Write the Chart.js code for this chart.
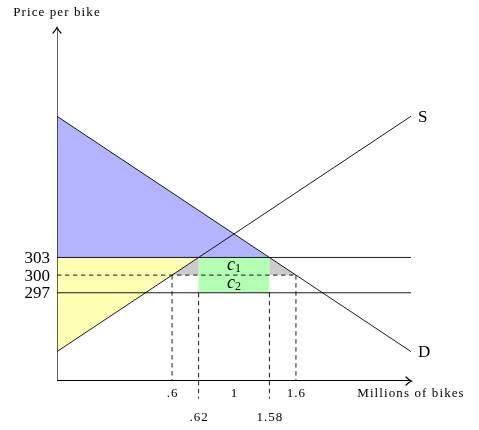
<!DOCTYPE html>
<html>
<head>
<meta charset="utf-8">
<script src="https://cdn.jsdelivr.net/npm/chart.js@4.4.1/dist/chart.umd.min.js"></script>
<style>
  html, body { margin: 0; padding: 0; background: #fff; }
  #wrap { width: 479px; height: 430px; }
</style>
</head>
<body>
<div id="wrap"><canvas id="grafico" width="479" height="430"></canvas></div>
<script>
// schematic units: both axes run 0..10
const supplyLine = [{x: 0, y: 0.833}, {x: 10, y: 7.5}];
const demandLine = [{x: 0, y: 7.5}, {x: 10, y: 0.833}];

const priceLevels = [3.5, 3, 2.5];
const priceLabels = ['303', '300', '297'];

// where the price lines cut supply and demand
const qSupplyAt300 = 3.25;
const qSupplyAt303 = 4;
const qDemandAt303 = 6;
const qDemandAt300 = 6.75;

const qTicks = [3.25, 5, 6.75];
const qTickLabels = ['.6', '1', '1.6'];
const qTicks2 = [4, 6];
const qTickLabels2 = ['.62', '1.58'];

const p303 = priceLevels[0], p300 = priceLevels[1], p297 = priceLevels[2];

function seg(a, b) { return [{x: a[0], y: a[1]}, {x: b[0], y: b[1]}]; }
function poly(pts) { return pts.map(p => ({x: p[0], y: p[1]})); }

function area(pts, color) {
  return {data: poly(pts), showLine: true, fill: 'shape', backgroundColor: color,
          borderWidth: 0, pointRadius: 0, order: 10};
}
function line(pts, width, dash, clip) {
  return {data: pts, showLine: true, fill: false, borderColor: '#000', borderWidth: width,
          borderDash: dash || [], pointRadius: 0, order: 1, clip: clip === false ? false : undefined};
}

const datasets = [
  area([[0, demandLine[0].y], [qDemandAt303, p303], [0, p303]], '#b3b3ff'),
  area([[0, p303], [qSupplyAt303, p303], [0, supplyLine[0].y]], '#ffffb3'),
  area([[qSupplyAt300, p300], [qSupplyAt303, p303], [qSupplyAt303, p300]], '#cccccc'),
  area([[qDemandAt303, p303], [qDemandAt300, p300], [qDemandAt303, p300]], '#cccccc'),
  area([[qSupplyAt303, p303], [qDemandAt303, p303], [qDemandAt303, p297], [qSupplyAt303, p297]], '#b3ffb3'),

  line(seg([0, p303], [10, p303]), 0.9),
  line(seg([0, p297], [10, p297]), 0.9),
  line(seg([0, p300], [qDemandAt300, p300]), 0.9, [4.5, 3.5]),
  line(seg([qSupplyAt300, p300], [qSupplyAt300, 0]), 0.9, [4.5, 3.5]),
  line(seg([qDemandAt300, p300], [qDemandAt300, 0]), 0.9, [4.5, 3.5]),
  line(seg([qSupplyAt303, p297], [qSupplyAt303, -0.5]), 0.9, [4.5, 3.5], false),
  line(seg([qDemandAt303, p297], [qDemandAt303, -0.5]), 0.9, [4.5, 3.5], false),
  line(supplyLine, 0.9),
  line(demandLine, 0.9),
  // axes
  line(seg([0, 0], [10, 0]), 1.8),
  line(seg([0, 0], [0, 10]), 1.2)
];

const serif = '"Liberation Serif", "DejaVu Serif", serif';

const labelsPlugin = {
  id: 'labels',
  afterDraw(chart) {
    const ctx = chart.ctx;
    const xs = chart.scales.x, ys = chart.scales.y;
    const X = v => xs.getPixelForValue(v), Y = v => ys.getPixelForValue(v);
    ctx.save();
    ctx.strokeStyle = '#000';
    ctx.lineWidth = 1.2;
    ctx.lineCap = 'round';
    // arrowheads
    const ax = X(10), ay = Y(0);
    ctx.beginPath();
    ctx.moveTo(ax - 5, ay - 4); ctx.quadraticCurveTo(ax - 2, ay - 1, ax + 0.5, ay);
    ctx.quadraticCurveTo(ax - 2, ay + 1, ax - 5, ay + 4);
    ctx.stroke();
    const bx = X(0), by = Y(10);
    ctx.beginPath();
    ctx.moveTo(bx - 4, by + 5); ctx.quadraticCurveTo(bx - 1, by + 2, bx, by - 0.5);
    ctx.quadraticCurveTo(bx + 1, by + 2, bx + 4, by + 5);
    ctx.stroke();

    ctx.fillStyle = '#000';
    ctx.textBaseline = 'middle';
    // price ticks
    ctx.font = '17px ' + serif;
    ctx.textAlign = 'right';
    priceLevels.forEach((p, i) => ctx.fillText(priceLabels[i], X(0) - 7, Y(p) + 1));
    // S and D
    ctx.textAlign = 'left';
    ctx.fillText('S', X(10) + 7, Y(supplyLine[1].y) + 1);
    ctx.fillText('D', X(10) + 7, Y(demandLine[1].y) + 1);
    // quantity ticks
    ctx.font = '13px ' + serif;
    ctx.textAlign = 'center';
    ctx.letterSpacing = '1px';
    qTicks.forEach((q, i) => ctx.fillText(qTickLabels[i], X(q) + 0.5, Y(0) + 13));
    qTicks2.forEach((q, i) => ctx.fillText(qTickLabels2[i], X(q) + 0.5, Y(0) + 37));
    ctx.letterSpacing = '1.1px';
    ctx.fillText('Millions of bikes', X(10), Y(0) + 13);
    ctx.fillText('Price per bike', X(0), Y(10) - 15);
    ctx.letterSpacing = '0px';
    // c1, c2
    const cx = X(5);
    [['1', (p303 + p300) / 2], ['2', (p300 + p297) / 2]].forEach(([sub, p]) => {
      ctx.font = 'italic 18px ' + serif;
      ctx.textAlign = 'right';
      ctx.fillText('c', cx + 1, Y(p) - 1);
      ctx.font = '12px ' + serif;
      ctx.textAlign = 'left';
      ctx.fillText(sub, cx + 1, Y(p) + 3);
    });
    ctx.restore();
  }
};

new Chart(document.getElementById('grafico'), {
  type: 'scatter',
  data: {datasets: datasets},
  options: {
    responsive: false,
    animation: false,
    layout: {padding: {left: 57, right: 68, top: 28, bottom: 49}},
    scales: {
      x: {type: 'linear', min: 0, max: 10, display: false},
      y: {type: 'linear', min: 0, max: 10, display: false}
    },
    plugins: {legend: {display: false}, tooltip: {enabled: false}}
  },
  plugins: [labelsPlugin]
});
</script>
</body>
</html>
